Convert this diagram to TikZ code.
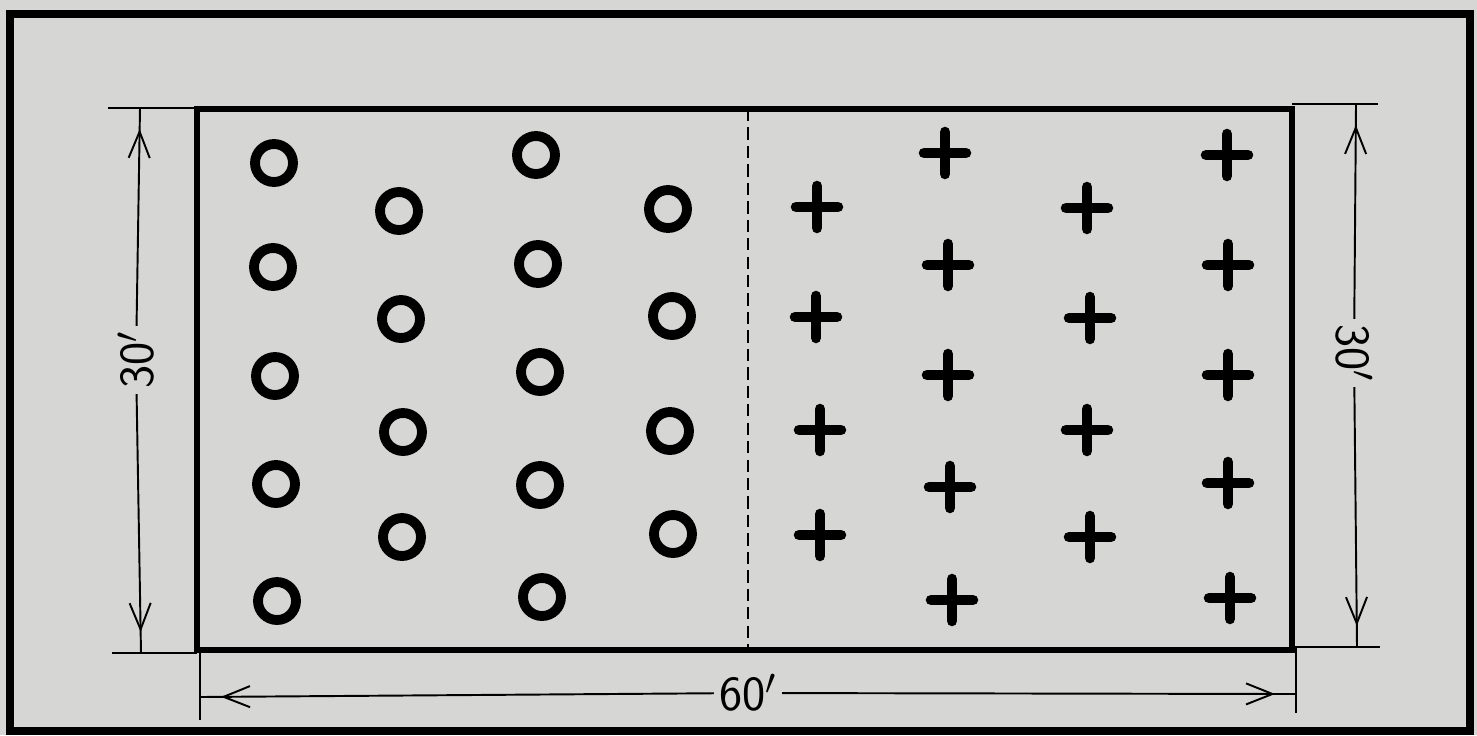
\documentclass[tikz,border=0pt]{standalone}
\usepackage{tikz}
\usetikzlibrary{arrows.meta, decorations.markings, positioning}

\definecolor{paper}{RGB}{214,214,212}

\tikzset{
    hole/.style={circle, draw, line width=5.6pt, minimum size=0.76cm, inner sep=0pt},
    plusmark/.style={line width=6pt, line cap=round},
    extline/.style={line width=1pt},
    dimline/.style={line width=1.1pt},
    dimarrow/.style={dimline, postaction={decorate},
        decoration={markings, mark=at position -0.42cm with {\arrow{Straight Barb[length=15pt,width=12pt,line width=1.1pt]}}}},
    dimlabel/.style={inner sep=3pt, font=\sffamily\fontsize{28}{30}\selectfont},
    divider/.style={line width=1pt, dash pattern=on 7pt off 3.5pt}
}

\begin{document}
\begin{tikzpicture}[x=0.02cm, y=-0.02cm]
    \fill[paper] (0,0) rectangle (1477,735);
    \useasboundingbox (0,0) rectangle (1477,735);

    % frame and field
    \draw[line width=4.5pt] (10,14) rectangle (1470,731);
    \coordinate (nw) at (197,109);
    \coordinate (se) at (1292,650);
    \draw[line width=3pt] (nw) rectangle (se);
    \draw[divider] (748,109) -- (748,650);

    % extension lines
    \coordinate (ext_nw) at (108,108);
    \coordinate (ext_ne) at (1378,104);
    \coordinate (ext_sw) at (112,653);
    \coordinate (ext_se) at (1380,647);
    \draw[extline] (ext_nw) -- (197,108);
    \draw[extline] (1292,104) -- (ext_ne);
    \draw[extline] (ext_sw) -- (197,653);
    \draw[extline] (1292,647) -- (ext_se);
    \draw[extline] (200,650) -- (200,720);
    \draw[extline] (1296,647) -- (1296,713);

    % dimensions
    \coordinate (dl_top) at (140,108);
    \coordinate (dl_bot) at (141,653);
    \coordinate (dr_top) at (1356,104);
    \coordinate (dr_bot) at (1357,647);
    \coordinate (db_l) at (200,697);
    \coordinate (db_r) at (1296,694);

    \node[dimlabel, rotate=90] (lab_l) at (136,360) {30$'$};
    \node[dimlabel, rotate=-90] (lab_r) at (1354,353) {30$'$};
    \node[dimlabel] (lab_b) at (748,693) {60$'$};

    \draw[dimarrow] (lab_l) -- (dl_top);
    \draw[dimarrow] (lab_l) -- (dl_bot);
    \draw[dimarrow] (lab_r) -- (dr_top);
    \draw[dimarrow] (lab_r) -- (dr_bot);
    \draw[dimarrow] (lab_b) -- (db_l);
    \draw[dimarrow] (lab_b) -- (db_r);

    % circles
    \foreach \x/\y [count=\i] in {274/163, 273/267, 275/376, 276/484, 277/601,
                                  399/211, 401/319, 403/432, 402/537,
                                  536/155, 538/264, 540/372, 540/485, 542/597,
                                  668/209, 672/316, 670/431, 673/534}
        \node[hole] (o_\i) at (\x,\y) {};

    % crosses
    \foreach \x/\y [count=\i] in {817/207, 816/317, 820/430, 820/535,
                                  945/153, 948/265, 948/375, 950/487, 952/600,
                                  1087/208, 1090/318, 1087/430, 1090/537,
                                  1227/155, 1228/265, 1228/375, 1228/483, 1230/598}
    {
        \coordinate (p_\i) at (\x,\y);
        \draw[plusmark] (p_\i) ++(-21,0) -- ++(42,0) (p_\i) ++(0,-21) -- ++(0,42);
    }
\end{tikzpicture}
\end{document}
